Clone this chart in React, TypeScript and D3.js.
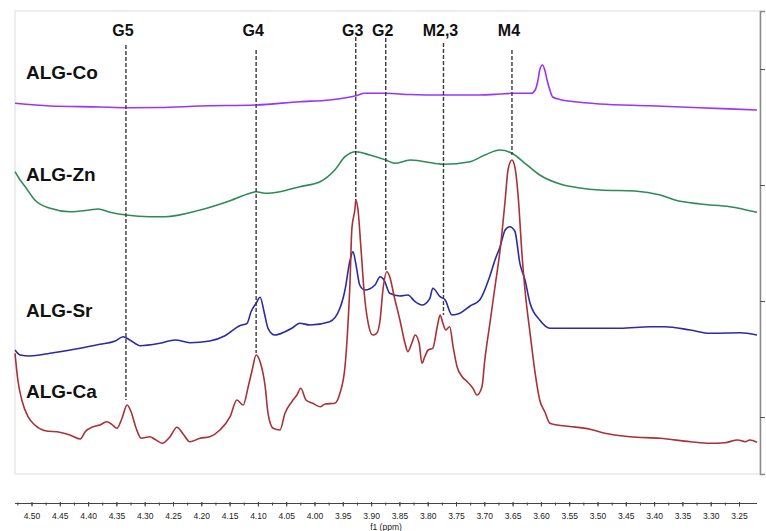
import React, { useRef, useEffect } from "react";
import * as d3 from "d3";

// chemical shift (ppm) / intensity (arbitrary units)
const coPpm = [4.53, 4.468, 4.38, 4.334, 4.274, 4.203, 4.104, 4.027, 3.974, 3.938, 3.928, 3.912, 3.875, 3.832, 3.774, 3.709, 3.673, 3.652, 3.618, 3.611, 3.606, 3.603, 3.598, 3.594, 3.59, 3.585, 3.58, 3.567, 3.532, 3.497, 3.408, 3.32, 3.219];
const coInt = [370.7, 368, 367, 366.3, 366.5, 368, 369, 372.3, 374, 377, 378.3, 380.7, 380.7, 379.5, 379, 379, 380, 380.7, 380.7, 384, 394, 404, 409, 404, 394, 384, 377, 374.5, 371.7, 370, 368.3, 366.3, 364];

const znPpm = [4.53, 4.521, 4.512, 4.495, 4.468, 4.433, 4.398, 4.383, 4.362, 4.334, 4.292, 4.265, 4.203, 4.15, 4.115, 4.104, 4.088, 4.062, 4.027, 3.991, 3.965, 3.947, 3.928, 3.903, 3.875, 3.859, 3.832, 3.806, 3.774, 3.726, 3.7, 3.673, 3.652, 3.629, 3.603, 3.567, 3.532, 3.497, 3.435, 3.39, 3.364, 3.32, 3.267, 3.219];
const znInt = [302.3, 294, 287.3, 274, 265.7, 262.3, 264, 265, 261.7, 259, 257.3, 257.3, 264, 273.3, 280.7, 282.3, 280.7, 282.3, 287.3, 292.3, 304, 317.3, 322.3, 319, 314, 310.7, 314, 312.3, 309.7, 312.3, 319, 324, 320.7, 310.7, 299, 290, 286, 284, 283, 279, 274, 270, 267.3, 261.7];

const srPpm = [4.53, 4.521, 4.504, 4.468, 4.415, 4.38, 4.353, 4.339, 4.327, 4.309, 4.274, 4.247, 4.221, 4.186, 4.159, 4.133, 4.12, 4.113, 4.104, 4.097, 4.09, 4.083, 4.071, 4.053, 4.041, 4.027, 4.009, 3.974, 3.956, 3.947, 3.938, 3.933, 3.928, 3.921, 3.912, 3.894, 3.885, 3.878, 3.868, 3.85, 3.836, 3.823, 3.811, 3.797, 3.792, 3.779, 3.77, 3.758, 3.744, 3.726, 3.709, 3.691, 3.682, 3.673, 3.664, 3.656, 3.647, 3.638, 3.629, 3.62, 3.603, 3.585, 3.55, 3.497, 3.461, 3.408, 3.382, 3.337, 3.302, 3.249, 3.219];
const srInt = [124, 119, 118, 120.7, 125.7, 129.7, 133, 137.3, 134, 128.3, 130.7, 134, 131.3, 133, 138.3, 148.3, 150.7, 162.3, 170.7, 176.7, 162.3, 145.7, 139, 142.3, 145.7, 150.7, 149, 152.3, 165.7, 184, 214, 222.3, 210.7, 189, 184, 189, 197.3, 194, 180.7, 178, 179, 172.3, 169, 175.7, 185.7, 177.3, 174, 159, 160.7, 168, 174, 198, 214, 227.3, 244, 247.3, 243, 210.7, 194, 170.7, 154, 145.7, 145.7, 145.7, 145.7, 147.3, 147.3, 144, 140.7, 141.3, 139];

const caPpm = [4.53, 4.525, 4.518, 4.507, 4.495, 4.477, 4.451, 4.433, 4.415, 4.406, 4.392, 4.38, 4.368, 4.359, 4.35, 4.341, 4.332, 4.325, 4.316, 4.307, 4.292, 4.283, 4.27, 4.256, 4.244, 4.233, 4.221, 4.203, 4.186, 4.168, 4.15, 4.138, 4.127, 4.118, 4.111, 4.104, 4.097, 4.088, 4.083, 4.074, 4.062, 4.053, 4.041, 4.032, 4.025, 4.016, 4.004, 3.991, 3.982, 3.965, 3.956, 3.947, 3.942, 3.938, 3.935, 3.929, 3.928, 3.924, 3.919, 3.913, 3.906, 3.898, 3.891, 3.885, 3.88, 3.873, 3.868, 3.86, 3.85, 3.841, 3.836, 3.829, 3.823, 3.816, 3.811, 3.806, 3.8, 3.792, 3.784, 3.779, 3.774, 3.769, 3.762, 3.756, 3.749, 3.74, 3.731, 3.721, 3.714, 3.705, 3.7, 3.691, 3.682, 3.673, 3.664, 3.659, 3.652, 3.647, 3.641, 3.634, 3.629, 3.62, 3.611, 3.603, 3.594, 3.585, 3.572, 3.55, 3.514, 3.488, 3.443, 3.39, 3.337, 3.302, 3.276, 3.253, 3.24, 3.232, 3.219];
const caInt = [120.7, 94, 74, 57.3, 49, 43.3, 41.7, 39, 35, 42.3, 47.3, 49, 52.3, 49.7, 45.7, 55.7, 69, 62.3, 45.7, 35.7, 37.3, 34.7, 30.7, 37.3, 46.7, 40, 32.3, 35.7, 37.3, 44, 57.3, 74, 69, 87.3, 104, 119, 112.3, 87.3, 60.7, 45.7, 44, 60.7, 72.3, 79, 85.7, 74, 70.7, 67.3, 70, 70.7, 80.7, 107.3, 147.3, 194, 244, 267.3, 274, 264, 227.3, 180.7, 150.7, 139, 140.7, 154, 184, 202.3, 197.3, 177.3, 154, 130.7, 122.3, 130.7, 139, 130.7, 110.7, 117.3, 124, 125.7, 147.3, 159, 150.7, 144, 147.3, 127.3, 107.3, 97.3, 92.3, 85.7, 79, 87.3, 114, 150.7, 187.3, 224, 274, 304, 314, 307.3, 277.3, 217.3, 184, 140.7, 100.7, 74, 62.3, 50.7, 49, 47.5, 44.7, 40.7, 37.3, 35.7, 32.3, 30.7, 31.3, 34, 32.3, 34, 31.7];

const seriesNames = ["ALG-Co", "ALG-Zn", "ALG-Sr", "ALG-Ca"];
const seriesColors = ["#9933ff", "#2e8b57", "#2b2ba6", "#a83236"];
const seriesLabelInt = [394.7, 293.3, 157.3, 75.7];

// assignments (dashed guides)
const peakNames = ["G5", "G4", "G3", "G2", "M2,3", "M4"];
const peakPpm = [4.334, 4.104, 3.928, 3.875, 3.773, 3.652];
const peakTopInt = [429, 424, 437, 436, 431, 424];
const peakBottomInt = [74, 121, 274, 204, 159, 319];

const xTicks = d3.range(0, 26).map((i) => +(4.5 - i * 0.05).toFixed(2));
const xMinor = d3.range(0, 52).map((i) => 4.525 - i * 0.025);
const yTicks = [57, 173, 289, 405];

export default function App() {
  const ref = useRef<SVGSVGElement>(null);

  const width = 766;
  const height = 531;

  const x = d3.scaleLinear().domain([4.5, 3.25]).range([32, 739.5]);
  const y = d3.scaleLinear().domain([0, 463]).range([474, 11]);

  const left = x(4.53);
  const right = 760;
  const top = y(463);
  const bottom = y(0);

  useEffect(() => {
    const vis = d3.select(ref.current);
    vis.selectAll("*").remove();

    // frame
    vis
      .append("rect")
      .attr("x", left)
      .attr("y", top)
      .attr("width", right - left)
      .attr("height", bottom - top)
      .attr("fill", "none")
      .attr("stroke", "#dcdcdc")
      .attr("stroke-width", 1);

    // right intensity axis
    vis
      .append("g")
      .attr("transform", `translate(${right}, 0)`)
      .call(d3.axisRight(y).tickValues(yTicks).tickSize(5).tickFormat(() => ""))
      .call((g) => g.select(".domain").attr("stroke", "#8a8a8a").attr("stroke-width", 1.5))
      .call((g) => g.selectAll(".tick line").attr("stroke", "#555"));

    // spectra
    const series = [
      [coPpm, coInt],
      [znPpm, znInt],
      [srPpm, srInt],
      [caPpm, caInt],
    ];
    const line = d3
      .line<[number, number]>()
      .x((d) => x(d[0]))
      .y((d) => y(d[1]))
      .curve(d3.curveMonotoneX);

    series.forEach(([p, v], i) => {
      const pts = p.map((d, j) => [d, v[j]] as [number, number]);
      vis
        .append("path")
        .attr("d", line(pts))
        .attr("fill", "none")
        .attr("stroke", seriesColors[i])
        .attr("stroke-width", 1.6)
        .attr("stroke-linejoin", "round");
    });

    // dashed guides
    const guides = vis.append("g");
    peakNames.forEach((name, i) => {
      guides
        .append("line")
        .attr("x1", x(peakPpm[i]))
        .attr("x2", x(peakPpm[i]))
        .attr("y1", y(peakTopInt[i]))
        .attr("y2", y(peakBottomInt[i]))
        .attr("stroke", "#3a3a3a")
        .attr("stroke-width", 1.4)
        .attr("stroke-dasharray", "4,2");
      guides
        .append("text")
        .text(name)
        .attr("x", x(peakPpm[i]) - 3)
        .attr("y", 36)
        .attr("text-anchor", "middle")
        .style("font-family", "'Liberation Sans', Arial, sans-serif")
        .style("font-weight", "bold")
        .style("font-size", "16px")
        .attr("fill", "#111");
    });

    // series labels
    seriesNames.forEach((name, i) => {
      vis
        .append("text")
        .text(name)
        .attr("x", 26)
        .attr("y", y(seriesLabelInt[i]))
        .style("font-family", "'Liberation Sans', Arial, sans-serif")
        .style("font-weight", "bold")
        .style("font-size", "19px")
        .attr("fill", "#111");
    });

    // ppm axis
    const axisY = 503.5;
    const ax = vis.append("g").attr("transform", `translate(0, ${axisY})`);
    ax.append("line")
      .attr("x1", left)
      .attr("x2", 757)
      .attr("stroke", "#444")
      .attr("stroke-width", 1);
    ax.selectAll(".minor")
      .data(xMinor.filter((d) => x(d) > left && x(d) < 757))
      .join("line")
      .attr("x1", (d) => x(d))
      .attr("x2", (d) => x(d))
      .attr("y1", -1)
      .attr("y2", 2)
      .attr("stroke", "#444");
    ax.selectAll(".major")
      .data(xTicks)
      .join("line")
      .attr("x1", (d) => x(d))
      .attr("x2", (d) => x(d))
      .attr("y1", -1.5)
      .attr("y2", 3)
      .attr("stroke", "#444");
    ax.selectAll("text")
      .data(xTicks)
      .join("text")
      .text((d) => d.toFixed(2))
      .attr("x", (d) => x(d))
      .attr("y", 15.5)
      .attr("text-anchor", "middle")
      .style("font-family", "'Liberation Sans', Arial, sans-serif")
      .style("font-size", "8.5px")
      .attr("fill", "#222");

    vis
      .append("text")
      .text("f1 (ppm)")
      .attr("x", 386)
      .attr("y", 529.5)
      .attr("text-anchor", "middle")
      .style("font-family", "'Liberation Sans', Arial, sans-serif")
      .style("font-size", "8.5px")
      .attr("fill", "#222");
  }, []);

  return (
    <svg
      ref={ref}
      width={width}
      height={height}
      style={{ position: "absolute", left: 0, top: 0, background: "#fff" }}
    ></svg>
  );
}
